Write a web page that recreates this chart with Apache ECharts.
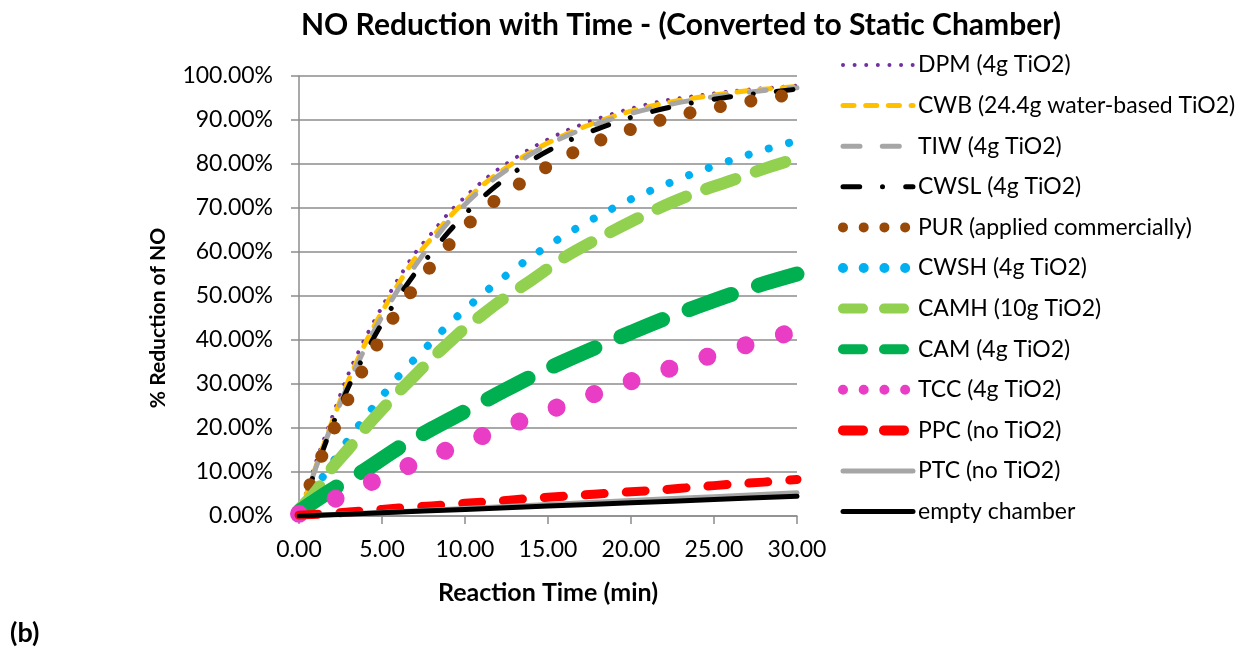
<!DOCTYPE html>
<html><head><meta charset="utf-8">
<script src="https://cdn.jsdelivr.net/npm/echarts@6/dist/echarts.min.js"></script>
<style>html,body{margin:0;padding:0;background:#fff}#c{width:1260px;height:648px}</style>
</head><body><div id="c"></div>
<script>
// ---- data ----
const seriesNames = ['DPM (4g TiO2)','CWB (24.4g water-based TiO2)','TIW (4g TiO2)','CWSL (4g TiO2)','PUR (applied commercially)','CWSH (4g TiO2)','CAMH (10g TiO2)','CAM (4g TiO2)','TCC (4g TiO2)','PPC (no TiO2)','PTC (no TiO2)','empty chamber'];
const tFine   = [0,1,2,3,4,5,6,7,8,9,10,11,12,14,16,18,20,22,24,26,28,30];
const tCoarse = [0,2,4,6,8,10,12,14,16,18,20,22,24,26,28,30];
const tLin    = [0,5,10,15,20,25,30];
const DPM  = [0,12,22.5,32.5,40.5,47.5,54,59.8,64.3,68.8,72.5,75.9,78.8,83.6,87.4,90.3,92.6,94.4,95.5,96.5,97.2,97.8];
const CWB  = [0,11,21.5,31,39.3,46.4,52.8,58.6,63.2,67.7,71.5,75,77.9,82.8,86.6,89.6,92,93.8,95.1,96.2,97,97.6];
const TIW  = [0,10.8,21,30.2,38.3,45.3,51.6,56.9,62.1,66.8,70.8,74.3,77.3,82.3,86.2,89.2,91.5,93.3,94.7,95.8,96.7,97.3];
const CWSL = [0,10.5,20.5,29.5,37,43.8,49.8,55.2,59.9,64.5,68.6,72.2,75.4,80.8,84.9,88,90.6,92.6,94.1,95.3,96.2,97.0];
const PUR  = [0.5,10.3,18.9,26.9,34.3,40.9,46.9,52.2,57,61.5,65.6,69.2,72.2,77.2,81.6,85.2,87.9,90.2,92,93.5,94.8,96];
const CWSH = [1,6.5,12,17.5,22.5,27.2,31.8,35.8,39.6,43.5,46.9,50.2,53.3,58.9,63.8,68.1,72,75.2,78.2,80.8,83.2,85.3];
const CAMH = [1.5,5.5,11,15.3,20,24.2,28.2,32,35.8,39.3,42.7,45.6,48.5,53.6,58.8,63,66.9,70.5,73.6,76.2,78.9,81.3];
const CAM  = [1,6,10.5,15.5,19.8,23.8,27.8,31.7,35.2,38.5,41.7,44.8,47.6,50.3,52.8,55];
const TCC  = [0.5,3.6,7.1,10.4,13.6,16.6,19.6,22.5,25.3,28.0,30.6,33.1,35.5,37.8,40.0,42.1];
const PPC  = [0.2,0.6,1.2,1.8,2.3,2.9,3.4,4.0,4.5,5.0,5.5,6.0,6.6,7.2,7.7,8.3];
const PTC  = [0,0.8,1.7,2.6,3.5,4.4,5.3];
const EMPTY= [0,0.75,1.5,2.25,3.0,3.75,4.5];
const xTicks = [0,5,10,15,20,25,30];
const yTicks = [0,10,20,30,40,50,60,70,80,90,100];

const seriesX = [tFine,tFine,tFine,tFine,tFine,tFine,tFine,tCoarse,tCoarse,tCoarse,tLin,tLin];
const seriesY = [DPM,CWB,TIW,CWSL,PUR,CWSH,CAMH,CAM,TCC,PPC,PTC,EMPTY];

// ---- styles ----
const colors = ['#7030A0','#FFC000','#A6A6A6','#000000','#984807','#00B0F0','#92D050','#00B050','#E83DC4','#FF0000','#A6A6A6','#000000'];
const plotStyle = [
  {width:4,  type:[0.01,11.6]},
  {width:5,  type:[11,11.7]},
  {width:5,  type:[17,22.3]},
  {width:5,  type:[16.7,22.8,0.01,23.2]},
  {width:13, type:[0.01,31]},
  {width:8,  type:[0.01,21]},
  {width:12, type:[31,21.6]},
  {width:15, type:[45,28.4]},
  {width:18, type:[0.01,39.8]},
  {width:9,  type:[19,22]},
  {width:5,  type:'solid'},
  {width:5,  type:'solid'}
];
const legendStyle = [
  {width:4,  type:[0.01,11.6]},
  {width:5,  type:[11,11.7]},
  {width:5,  type:[17,22.3]},
  {width:5,  type:[16.7,22.8,0.01,23.2]},
  {width:10, type:[0.01,20.7]},
  {width:10, type:[0.01,20.7]},
  {width:10, type:[20,21]},
  {width:10, type:[20,21]},
  {width:10, type:[0.01,20.7]},
  {width:10, type:[20,21]},
  {width:5,  type:'solid'},
  {width:5,  type:'solid'}
];
const FONT = 'Lato, "Open Sans", "DejaVu Sans", sans-serif';

const series = seriesNames.map((n,i)=>({
  name:n, type:'line', smooth:0.3, symbol:'none', showSymbol:false,
  data: seriesX[i].map((t,j)=>[t, seriesY[i][j]]),
  lineStyle:{color:colors[i], width:plotStyle[i].width, type:plotStyle[i].type, cap:'round', join:'round'},
  itemStyle:{color:colors[i]},
  emphasis:{disabled:true}, animation:false
}));

const chart = echarts.init(document.getElementById('c'), null, {renderer:'canvas'});
chart.setOption({
  animation:false,
  backgroundColor:'#fff',
  grid:{left:299, right:463, top:76, bottom:132, containLabel:false},
  xAxis:{
    type:'value', min:0, max:30, interval:5,
    name:'Reaction Time (min)', nameLocation:'middle', nameGap:64,
    nameTextStyle:{fontFamily:FONT, fontWeight:'bold', fontSize:25, color:'#000'},
    axisLine:{show:true, onZero:false, lineStyle:{color:'#8C8C8C', width:1.5}},
    axisTick:{show:true, length:8, inside:false, lineStyle:{color:'#8C8C8C', width:1.5}},
    axisLabel:{fontFamily:FONT, fontSize:23, color:'#000', margin:22, formatter:v=>xTicks.includes(v)?v.toFixed(2):''},
    splitLine:{show:false}
  },
  yAxis:{
    type:'value', min:0, max:100, interval:10,
    axisLine:{show:true, lineStyle:{color:'#8C8C8C', width:1.5}},
    axisTick:{show:true, length:8, inside:false, lineStyle:{color:'#8C8C8C', width:1.5}},
    axisLabel:{fontFamily:FONT, fontSize:23, color:'#000', margin:26, formatter:v=>yTicks.includes(v)?v.toFixed(2)+'%':''},
    splitLine:{show:true, lineStyle:{color:'#8C8C8C', width:1.5}}
  },
  legend:{
    orient:'vertical', left:838, top:52, padding:0, itemWidth:70, itemHeight:14, itemGap:14.6,
    itemStyle:{opacity:0},
    textStyle:{fontFamily:FONT, fontSize:23, color:'#000', lineHeight:26},
    selectedMode:false,
    data: seriesNames.map((n,i)=>({name:n, lineStyle:{color:colors[i], width:legendStyle[i].width, type:legendStyle[i].type, cap:'round', opacity:1}, itemStyle:{opacity:0}}))
  },
  graphic:[
    {type:'text', position:[681,25], style:{text:'NO Reduction with Time - (Converted to Static Chamber)', x:0, y:0, textAlign:'center', textVerticalAlign:'middle', font:'bold 30px '+FONT, fill:'#000'}},
    {type:'text', rotation:Math.PI/2, position:[158,318], style:{text:'% Reduction of NO', x:0, y:0, textAlign:'center', textVerticalAlign:'middle', font:'bold 21px '+FONT, fill:'#000'}},
    {type:'text', position:[10,633], style:{text:'(b)', x:0, y:0, textAlign:'left', textVerticalAlign:'middle', font:'bold 27px '+FONT, fill:'#000'}}
  ],
  series: series
});
</script></body></html>
